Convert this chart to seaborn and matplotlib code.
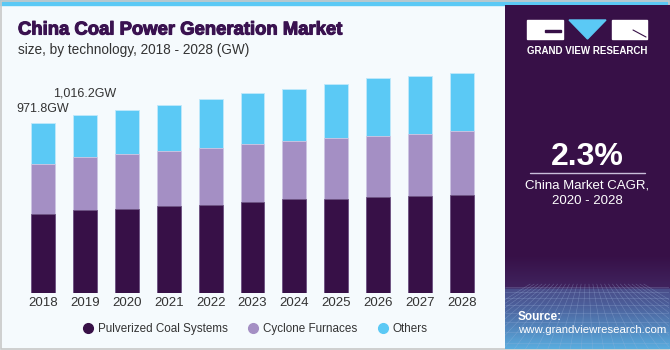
import numpy as np
import pandas as pd
import matplotlib.pyplot as plt
import matplotlib.patches as mpatches
import matplotlib.patheffects as pe
from matplotlib.colors import to_rgb
from matplotlib.lines import Line2D
import seaborn as sns

years = ['2018', '2019', '2020', '2021', '2022', '2023', '2024', '2025', '2026', '2027', '2028']
pulverized = [453, 476, 482, 497, 501, 522, 538, 538, 549, 555, 561]
cyclone = [285, 301, 313, 313, 328, 330, 334, 349, 349, 356, 366]
others = [233.8, 239.2, 250, 268, 279, 295, 297, 307, 330, 332, 330]
labels = {0: '971.8GW', 1: '1,016.2GW'}

DARK = '#371047'
LAV = '#A48FC4'
CYAN = '#5BC9F5'
BG = '#F5FAFD'

W, H = 670, 350


def px(x0, y0, x1, y1):
    # pixel box (from top-left) -> figure fraction rect
    return [x0 / W, 1 - y1 / H, (x1 - x0) / W, (y1 - y0) / H]


def panel_gradient(n=344):
    # dark purple top, soft horizon, bluish floor
    stops = [(0, DARK), (250, DARK), (282, '#40235E'), (284, '#4A4E8A'),
             (300, '#4C5F9A'), (344, '#5AAEE0')]
    ys = np.arange(n)
    img = np.zeros((n, 1, 3))
    for k in range(3):
        img[:, 0, k] = np.interp(ys, [s[0] for s in stops], [to_rgb(s[1])[k] for s in stops])
    return img


def main():
    sns.set_theme(style='white')
    plt.rcParams['font.family'] = ['Liberation Sans', 'DejaVu Sans']

    df = pd.DataFrame({'year': years, 'p': pulverized, 'c': cyclone, 'o': others})
    df['pc'] = df['p'] + df['c']
    df['total'] = df['pc'] + df['o']

    fig = plt.figure(figsize=(6.7, 3.5), dpi=100)
    fig.patch.set_facecolor(BG)

    # frame + top band
    bg = fig.add_axes([0, 0, 1, 1], zorder=-5)
    bg.set_xlim(0, W)
    bg.set_ylim(H, 0)
    bg.axis('off')
    bg.add_patch(mpatches.Rectangle((0, 0), W, 5, color=CYAN))
    bg.add_patch(mpatches.Rectangle((0.5, 0.5), W - 1.5, H - 1.5, fill=False, ec='#C8C8C8', lw=1.2))

    # right panel
    rp = fig.add_axes(px(505, 5, 669, 349))
    rp.set_xlim(0, 164)
    rp.set_ylim(344, 0)
    rp.axis('off')
    rp.imshow(panel_gradient(), aspect='auto', extent=(0, 164, 344, 0), zorder=0)
    for gx in np.linspace(-80, 244, 30):
        rp.plot([82 + (gx - 82) * 0.35, gx], [279, 344], color='#9FB6DD', lw=0.4, alpha=0.4, zorder=1)
    for gy in [282, 287, 293, 300, 308, 317, 327, 338]:
        rp.plot([0, 164], [gy, gy], color='#9FB6DD', lw=0.4, alpha=0.4, zorder=1)
    # logo
    rp.add_patch(mpatches.Rectangle((22, 15), 36, 19, color='white', zorder=2))
    rp.add_patch(mpatches.Rectangle((40, 25), 16, 2, color=DARK, zorder=3))
    rp.add_patch(mpatches.Polygon([(64, 15), (101, 15), (82.5, 34)], color=CYAN, zorder=2))
    rp.add_patch(mpatches.Rectangle((107, 15), 35, 19, color='white', zorder=2))
    rp.plot([128, 141], [25, 32], color=DARK, lw=0.8, zorder=3)
    rp.text(82, 46, 'GRAND VIEW RESEARCH', color='white', fontsize=7, fontweight='bold',
            ha='center', va='center', zorder=3)
    rp.text(82, 152, '2.3%', color='white', fontsize=23, fontweight='bold', ha='center', va='center', zorder=3)
    rp.plot([25, 140], [168, 168], color='#C9BEDA', lw=1, zorder=3)
    rp.text(82, 180, 'China Market CAGR,', color='white', fontsize=9.5, ha='center', va='center', zorder=3)
    rp.text(82, 196, '2020 - 2028', color='white', fontsize=9.5, ha='center', va='center', zorder=3)
    rp.text(13, 312, 'Source:', color='white', fontsize=8.5, fontweight='bold', va='center', zorder=3)
    rp.text(13, 325, 'www.grandviewresearch.com', color='white', fontsize=8.2, va='center', zorder=3)

    # chart
    ax = fig.add_axes(px(22, 60, 483, 293))
    ax.set_facecolor(BG)
    sns.barplot(data=df, x='year', y='total', color=CYAN, saturation=1, width=0.57,
                edgecolor='#BFE9FB', linewidth=0.6, ax=ax)
    sns.barplot(data=df, x='year', y='pc', color=LAV, saturation=1, width=0.57,
                edgecolor='#D2C7E3', linewidth=0.6, ax=ax)
    sns.barplot(data=df, x='year', y='p', color=DARK, saturation=1, width=0.57,
                edgecolor='#6E5483', linewidth=0.6, ax=ax)
    ax.set_xlim(-0.5, 10.5)
    ax.set_ylim(0, 1333)
    ax.set_xlabel('')
    ax.set_ylabel('')
    ax.set_yticks([])
    ax.tick_params(axis='x', length=0, pad=3, labelsize=9.5, labelcolor='#333333')
    sns.despine(ax=ax, left=True, bottom=True)

    offs = {0: 80, 1: 126}
    for i, txt in labels.items():
        ax.text(i, df['total'][i] + offs[i], txt, ha='center', va='center', fontsize=9, color='#333333')

    # title (heavier look via a thin stroke)
    fig.text(18 / W, 1 - 30 / H, 'China Coal Power Generation Market', fontsize=13.3, fontweight='bold',
             color='#3A1250', va='center',
             path_effects=[pe.withStroke(linewidth=0.8, foreground='#3A1250')])
    fig.text(18 / W, 1 - 50 / H, 'size, by technology, 2018 - 2028 (GW)', fontsize=9.8,
             color='#333333', va='center')

    handles = [Line2D([], [], marker='o', ls='', color=c, markersize=7) for c in (DARK, LAV, CYAN)]
    fig.legend(handles, ['Pulverized Coal Systems', 'Cyclone Furnaces', 'Others'],
               loc='center', bbox_to_anchor=(255 / W, 1 - 329 / H), ncol=3, frameon=False,
               fontsize=8.4, handlelength=1.0, handletextpad=0.35, columnspacing=1.65,
               labelcolor='#333333')

    fig.savefig('out.png', dpi=100, facecolor=BG)


if __name__ == '__main__':
    main()
